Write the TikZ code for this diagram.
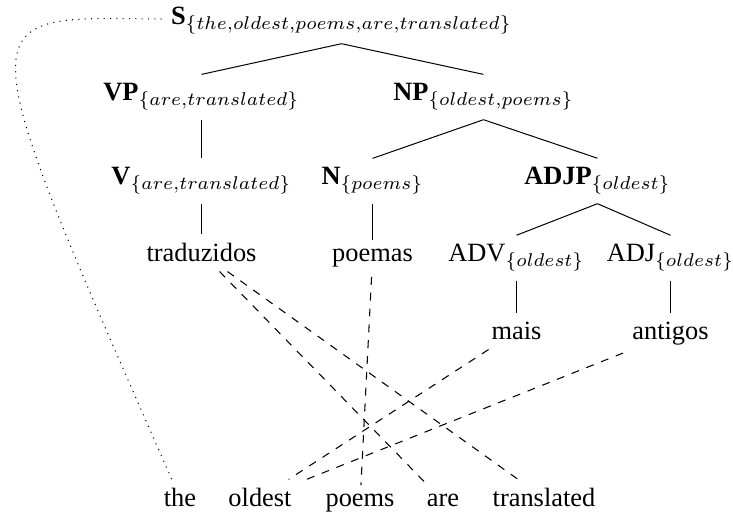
\documentclass[tikz,border=0pt]{standalone}
\usepackage{fontspec}
\setmainfont{Liberation Serif}
\begin{document}
\begin{tikzpicture}[x=0.379pt,y=-0.379pt,
  cat/.style={anchor=base},
  branch/.style={line width=0.379pt},
  wordlink/.style={dashed},
  rootlink/.style={dotted}]
\useasboundingbox (0,0) rectangle (733,520);

% phrase structure tree
\node[cat] (S)    at (341.5,25)  {\textbf{S}$_{\{the,oldest,poems,are,translated\}}$};
\node[cat] (VP)   at (201.5,101) {\textbf{VP}$_{\{are,translated\}}$};
\node[cat] (NP)   at (483.5,101) {\textbf{NP}$_{\{oldest,poems\}}$};
\node[cat] (V)    at (201.5,185) {\textbf{V}$_{\{are,translated\}}$};
\node[cat] (N)    at (372.5,185) {\textbf{N}$_{\{poems\}}$};
\node[cat] (ADJP) at (597.5,185) {\textbf{ADJP}$_{\{oldest\}}$};
\node[cat] (trad) at (201.5,262) {traduzidos};
\node[cat] (poemas) at (372.5,262) {poemas};
\node[cat] (ADV)  at (516.5,262) {ADV$_{\{oldest\}}$};
\node[cat] (ADJ)  at (670.5,262) {ADJ$_{\{oldest\}}$};
\node[cat] (mais) at (516.5,340) {mais};
\node[cat] (antigos) at (670.5,340) {antigos};

% English sentence
\node[cat] (the)        at (180,507) {the};
\node[cat] (oldest)     at (260,507) {oldest};
\node[cat] (poems)      at (360,507) {poems};
\node[cat] (are)        at (443,507) {are};
\node[cat] (translated) at (544,507) {translated};

% tree branches
\draw[branch] (S.south) -- (VP.north);
\draw[branch] (S.south) -- (NP.north);
\draw[branch] (VP.south) -- (V.north);
\draw[branch] (NP.south) -- (N.north);
\draw[branch] (NP.south) -- (ADJP.north);
\draw[branch] (V.south) -- (trad.north);
\draw[branch] (N.south) -- (poemas.north);
\draw[branch] (ADJP.south) -- (ADV.north);
\draw[branch] (ADJP.south) -- (ADJ.north);
\draw[branch] (ADV.south) -- (mais.north);
\draw[branch] (ADJ.south) -- (antigos.north);

% word alignments
\draw[wordlink] (trad) -- (are);
\draw[wordlink] (trad) -- (translated);
\draw[wordlink] (poemas) -- (poems);
\draw[wordlink] (mais) -- (oldest);
\draw[wordlink] (antigos) -- (oldest);

% unaligned word attached to the root
\draw[rootlink] (S) .. controls (-30,17) and (-40,0) .. (the);
\end{tikzpicture}
\end{document}
